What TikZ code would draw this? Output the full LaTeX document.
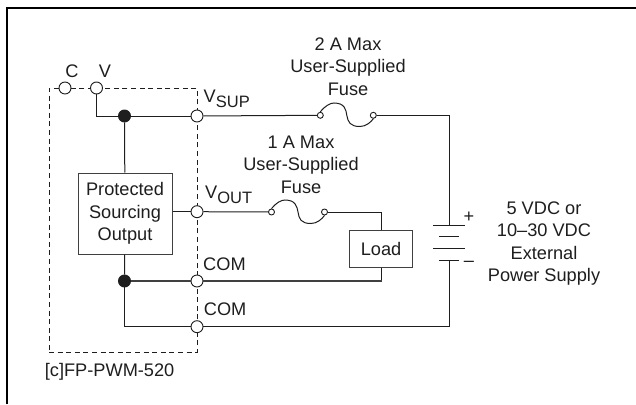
\documentclass[tikz,border=0pt]{standalone}
\usepackage{fontspec}
\setmainfont{Liberation Sans}
\definecolor{ink}{HTML}{1E1E1E}
\tikzset{
  wire/.style={draw=ink,line width=1pt},
  wirethick/.style={draw=ink!85,line width=1.4pt},
  term/.style={circle,draw=ink,fill=white,line width=0.9pt,inner sep=0pt,minimum size=12pt},
  dot/.style={circle,draw=ink,fill=ink,line width=0.9pt,inner sep=0pt,minimum size=12pt},
  fterm/.style={circle,draw=ink,fill=white,line width=0.9pt,inner sep=0pt,minimum size=6pt},
  boxn/.style={rectangle,draw=ink!85,fill=white,line width=1pt,inner sep=0pt,align=center,text=ink},
  lab/.style={inner sep=0pt,align=center,text=ink,font=\fontsize{18.2}{22.6}\selectfont},
  tlab/.style={inner sep=0pt,anchor=base west,text=ink,font=\fontsize{18.2}{22.6}\selectfont},
  plate/.style={draw=ink,line width=1pt},
  module/.style={rectangle,draw=ink,line width=0.75pt,dash pattern=on 5pt off 3.6pt,inner sep=0pt}
}
\newcommand{\subt}[1]{\raisebox{-5pt}{\fontsize{16.5}{18}\selectfont #1}}
\begin{document}
\begin{tikzpicture}[x=1pt,y=-1pt]
\useasboundingbox (0,0) rectangle (636,404);
\draw[draw=black,line width=2pt] (7,404) -- (7,8) -- (636,8);
% module outline
\node[module,minimum width=148pt,minimum height=264pt] (module) at (123,220) {};
% terminals
\node[term] (c) at (65,88) {};
\node[term] (v) at (96.5,88) {};
\node[dot] (j1) at (124.5,116) {};
\node[dot] (j2) at (124.5,281) {};
\node[term] (vsup) at (197,116) {};
\node[term] (vout) at (197,211.7) {};
\node[term] (com1) at (197,281) {};
\node[term] (com2) at (197,326.7) {};
% boxes
\node[boxn,minimum width=94pt,minimum height=81pt,font=\fontsize{18.2}{22.6}\selectfont] (pso) at (125,213.5) {Protected\\Sourcing\\Output};
\node[boxn,minimum width=63.5pt,minimum height=37pt,font=\fontsize{18.2}{22.6}\selectfont] (load) at (381,248.5) {Load};
% fuse terminals
\node[fterm] (f1a) at (320.3,115.3) {};
\node[fterm] (f1b) at (373.3,115.3) {};
\node[fterm] (f2a) at (271.5,212) {};
\node[fterm] (f2b) at (324.5,212) {};
% battery
\coordinate (bp) at (449.5,225.5);
\coordinate (bn) at (449.5,260);
\coordinate (c1) at (449.5,115.3);
\coordinate (c2) at (449.5,326.7);
\coordinate (c3) at (381.5,212);
\coordinate (c4) at (381.5,281);
\draw[plate] (433,225.5) -- (465,225.5);
\draw[plate] (439,236.7) -- (459,236.7);
\draw[plate] (433,248) -- (465,248);
\draw[plate] (439,260) -- (459,260);
% wires
\draw[wire] (v) |- (j1);
\draw[wire] (j1) -- (vsup);
\draw[wire] (j1) -- (pso);
\draw[wire] (pso) -- (j2);
\draw[wirethick] (j2) -- (com1);
\draw[wire] (j2) |- (com2);
\draw[wire] (pso.east |- vout) -- (vout);
\draw[wire] (vsup) -- (f1a);
\draw[wire] (f1b) -- (c1) -- (bp);
\draw[wire] (bn) -- (c2) -- (com2);
\draw[wire] (vout) -- (f2a);
\draw[wire] (f2b) -- (c3) -- (load.north -| c3);
\draw[wire] (load.south -| c4) -- (c4);
\draw[wirethick] (c4) -- (com1);
% fuses
\draw[wire] (f1a.north) .. controls (325,106) and (330,103) .. (334,103) .. controls (345,103) and (346,110) .. (346.8,115.3) .. controls (348,122) and (350,126.5) .. (360,126.5) .. controls (366,126.5) and (371,122) .. (f1b.south);
\draw[wire] (f2a.north) .. controls (276,203) and (281,200) .. (285,200) .. controls (296,200) and (297,207) .. (298,212) .. controls (299,219) and (301,223.5) .. (311,223.5) .. controls (317,223.5) and (322,219) .. (f2b.south);
% labels
\node[lab] (lc) at (72,71) {C};
\node[lab] (lv) at (105,71) {V};
\node[tlab] (lvsup) at (203.5,102) {V\subt{SUP}};
\node[tlab] (lvout) at (205,198) {V\subt{OUT}};
\node[tlab] (lcom1) at (203,270) {COM};
\node[tlab] (lcom2) at (203.7,315) {COM};
\node[tlab] (lmod) at (44.7,376) {[c]FP-PWM-520};
\node[lab] (lf1) at (348,66.5) {2 A Max\\User-Supplied\\Fuse};
\node[lab] (lf2) at (301,164.5) {1 A Max\\User-Supplied\\Fuse};
\node[lab] (lps) at (544,243.5) {5 VDC or\\10–30 VDC\\External\\Power Supply};
\node[lab] (lplus) at (469,217.5) {+};
\node[lab] (lminus) at (469,264) {–};
\end{tikzpicture}
\end{document}
